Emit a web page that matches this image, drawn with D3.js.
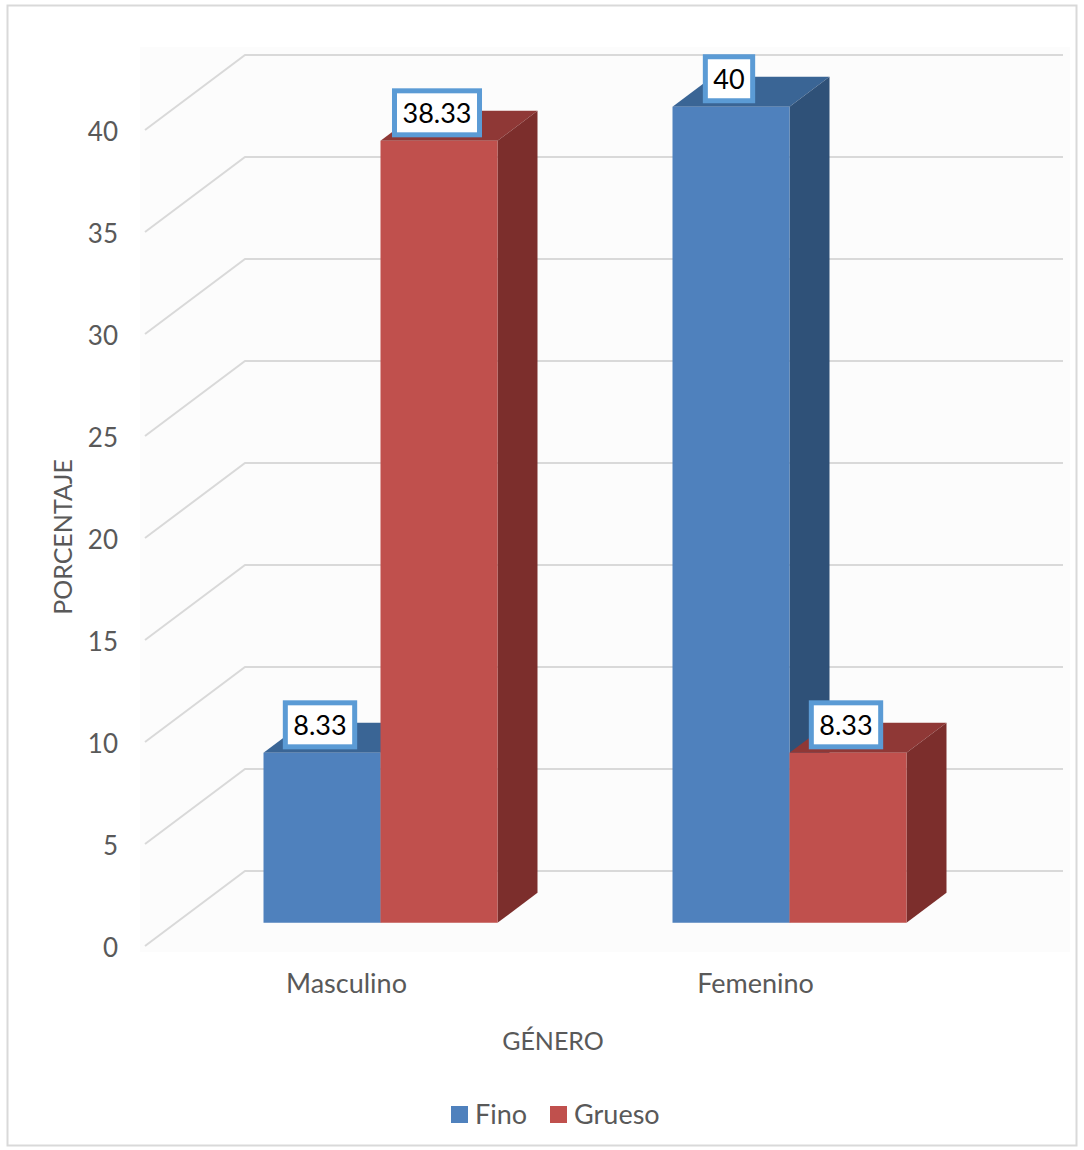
<!DOCTYPE html>
<html>
<head>
<meta charset="utf-8">
<script src="https://cdn.jsdelivr.net/npm/d3@7"></script>
<style>
  html, body { margin: 0; padding: 0; background: #ffffff; }
  svg { display: block; font-family: Lato, "Open Sans", sans-serif; }
</style>
</head>
<body>
<svg id="chart" width="1084" height="1150"></svg>
<script>
// Data
const categories = ["Masculino", "Femenino"];
const seriesNames = ["Fino", "Grueso"];
const fino = [8.33, 40];
const grueso = [38.33, 8.33];
const tickValues = [0, 5, 10, 15, 20, 25, 30, 35, 40];
const yTitle = "PORCENTAJE";
const xTitle = "GÉNERO";

const values = { Fino: fino, Grueso: grueso };

// Colours: front / side / top faces per series
const faceColors = {
  Fino:   { front: "#4f81bd", side: "#2f5178", top: "#3a6595" },
  Grueso: { front: "#c0504d", side: "#7c2e2c", top: "#8f3836" }
};

const svg = d3.select("#chart");

// Oblique projection: depth 1 moves right by DX and up by DY
const DX = 100, DY = 75;
const proj = (x, y, d) => [x + DX * d, y - DY * d];

// Scales on the front plane of the floor
const y = d3.scaleLinear().domain([0, 40]).range([946, 130]);
const x0 = d3.scaleBand().domain(categories).range([145, 963]);
const groupW = 234;
const x1 = d3.scaleBand().domain(seriesNames).range([0, groupW]);
const bandStart = c => x0(c) + (x0.bandwidth() - groupW) / 2;

// Bar depth span
const D0 = 0.31, D1 = 0.71;

// Outer frame
svg.append("rect")
  .attr("x", 7.5).attr("y", 5.5).attr("width", 1069).attr("height", 1140)
  .attr("fill", "#ffffff").attr("stroke", "#d9d9d9").attr("stroke-width", 2);

// Plot area backdrop
svg.append("rect")
  .attr("x", 140).attr("y", 47).attr("width", 930).attr("height", 905)
  .attr("fill", "#fcfcfc");

// Gridlines: back wall horizontals and side wall diagonals
const grid = svg.append("g").attr("stroke", "#d9d9d9").attr("stroke-width", 2).attr("fill", "none");
tickValues.forEach(t => {
  const a = proj(x0.range()[0], y(t), 0);
  const b = proj(x0.range()[0], y(t), 1);
  const c = proj(x0.range()[1], y(t), 1);
  grid.append("path").attr("d", d3.line()([a, b, c]));
});

// Y tick labels
svg.append("g")
  .selectAll("text").data(tickValues).join("text")
  .attr("x", 118).attr("y", d => y(d))
  .attr("dy", "0.42em")
  .attr("text-anchor", "end")
  .attr("fill", "#595959")
  .attr("font-size", 26)
  .text(d => d);

// Bars
const bars = [];
categories.forEach((c, i) => {
  seriesNames.forEach(s => {
    bars.push({ cat: c, series: s, value: values[s][i] });
  });
});

const barG = svg.append("g");
bars.forEach(b => {
  const xl = bandStart(b.cat) + x1(b.series);
  const xr = xl + x1.bandwidth();
  const yb = y(0), yt = y(b.value);
  const col = faceColors[b.series];
  const poly = pts => "M" + pts.map(p => p.join(",")).join("L") + "Z";
  const g = barG.append("g");
  // top face
  g.append("path").attr("fill", col.top)
    .attr("d", poly([proj(xl, yt, D0), proj(xr, yt, D0), proj(xr, yt, D1), proj(xl, yt, D1)]));
  // right side face
  g.append("path").attr("fill", col.side)
    .attr("d", poly([proj(xr, yt, D0), proj(xr, yt, D1), proj(xr, yb, D1), proj(xr, yb, D0)]));
  // front face
  g.append("path").attr("fill", col.front)
    .attr("d", poly([proj(xl, yt, D0), proj(xr, yt, D0), proj(xr, yb, D0), proj(xl, yb, D0)]));
  b.labelX = proj((xl + xr) / 2, yt, D0)[0] - 2;
  b.labelBottom = proj((xl + xr) / 2, yt, D0)[1] - 4;
});

// Data labels in outlined boxes
const lblG = svg.append("g");
bars.forEach(b => {
  const t = lblG.append("text")
    .attr("x", b.labelX)
    .attr("y", b.labelBottom - 24)
    .attr("dy", "0.38em")
    .attr("text-anchor", "middle")
    .attr("fill", "#000000")
    .attr("font-size", 27)
    .text(b.value);
  const bb = t.node().getBBox();
  const padX = 8;
  lblG.insert("rect", () => t.node())
    .attr("x", b.labelX - bb.width / 2 - padX)
    .attr("y", b.labelBottom - 46)
    .attr("width", bb.width + padX * 2)
    .attr("height", 44)
    .attr("fill", "#ffffff")
    .attr("stroke", "#5b9bd5")
    .attr("stroke-width", 5);
});

// Category labels
svg.append("g")
  .selectAll("text").data(categories).join("text")
  .attr("x", d => x0(d) + x0.bandwidth() / 2 - 3)
  .attr("y", 983).attr("dy", "0.36em")
  .attr("text-anchor", "middle")
  .attr("fill", "#595959")
  .attr("font-size", 27)
  .text(d => d);

// Axis titles
svg.append("text")
  .attr("transform", "translate(63,537) rotate(-90)")
  .attr("dy", "0.36em")
  .attr("text-anchor", "middle")
  .attr("fill", "#595959")
  .attr("font-size", 25)
  .text(yTitle);

svg.append("text")
  .attr("x", 553).attr("y", 1041).attr("dy", "0.36em")
  .attr("text-anchor", "middle")
  .attr("fill", "#595959")
  .attr("font-size", 25)
  .text(xTitle);

// Legend
const legend = svg.append("g");
const legendItems = [
  { name: "Fino", x: 451 },
  { name: "Grueso", x: 550 }
];
legendItems.forEach(it => {
  legend.append("rect")
    .attr("x", it.x).attr("y", 1106).attr("width", 17).attr("height", 17)
    .attr("fill", faceColors[it.name].front);
  legend.append("text")
    .attr("x", it.x + 24).attr("y", 1114).attr("dy", "0.36em")
    .attr("fill", "#595959")
    .attr("font-size", 27)
    .text(it.name);
});
</script>
</body>
</html>
